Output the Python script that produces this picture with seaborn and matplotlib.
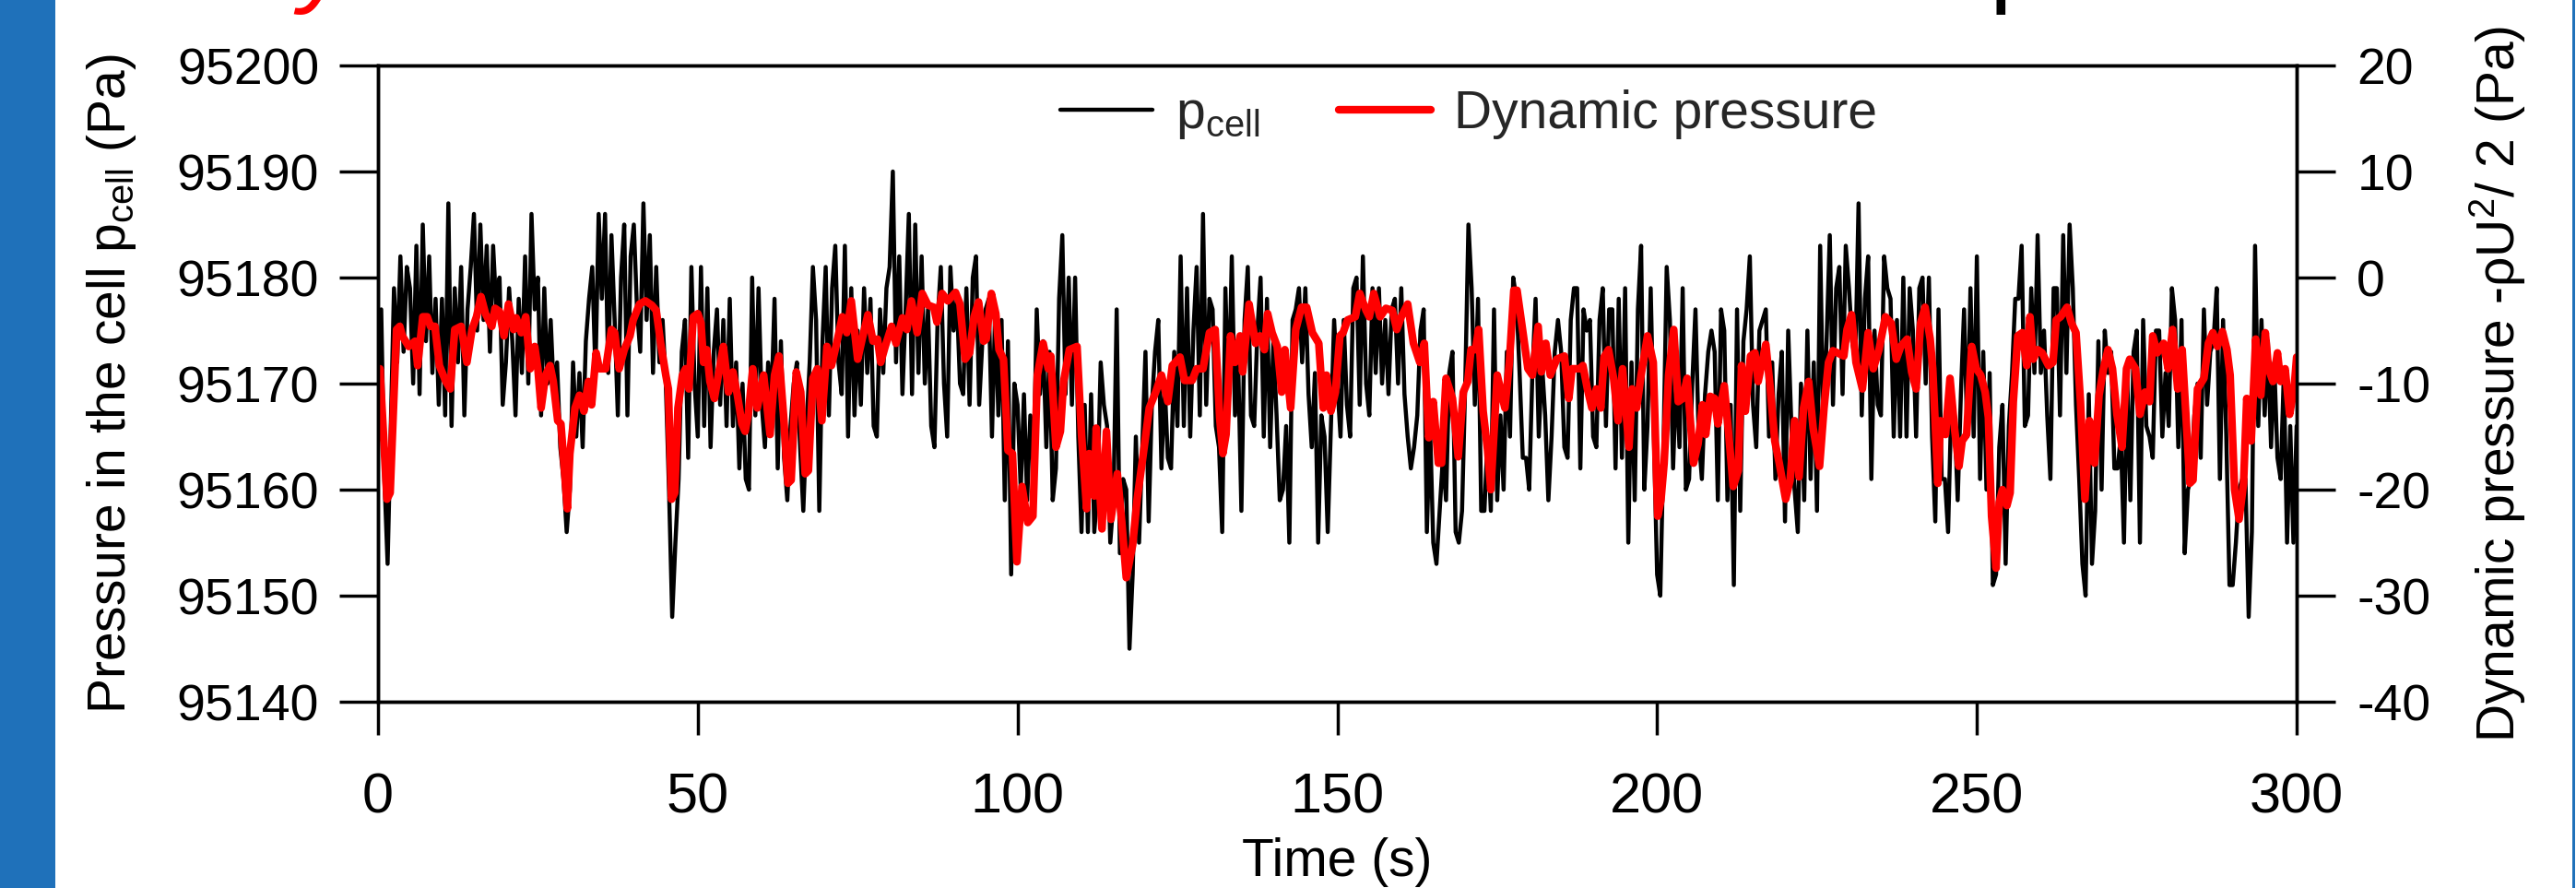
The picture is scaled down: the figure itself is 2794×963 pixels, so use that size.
import numpy as np
import pandas as pd
import matplotlib
matplotlib.use("Agg")
import matplotlib.pyplot as plt
import seaborn as sns
from matplotlib.patches import Rectangle
from matplotlib.lines import Line2D

# ---------------- data ----------------
# pressure in the cell (Pa), sampled every 0.5 s from 0 to 300 s
p_cell = [
    95168, 95177, 95161, 95153, 95166, 95179, 95172, 95182, 95173, 95181,
    95179, 95170, 95183, 95169, 95185, 95174, 95182, 95171, 95178, 95168,
    95178, 95167, 95187, 95166, 95179, 95172, 95181, 95167, 95177, 95181,
    95186, 95175, 95185, 95176, 95183, 95173, 95183, 95177, 95180, 95168,
    95172, 95179, 95174, 95167, 95178, 95171, 95182, 95170, 95186, 95177,
    95180, 95167, 95179, 95170, 95176, 95169, 95172, 95164, 95161, 95156,
    95160, 95172, 95165, 95171, 95164, 95174, 95178, 95181, 95171, 95186,
    95178, 95186, 95171, 95184, 95176, 95167, 95180, 95185, 95167, 95182,
    95185, 95177, 95173, 95187, 95176, 95184, 95171, 95181, 95172, 95176,
    95170, 95160, 95148, 95155, 95161, 95173, 95176, 95163, 95181, 95170,
    95165, 95181, 95166, 95179, 95164, 95173, 95177, 95168, 95176, 95166,
    95178, 95166, 95172, 95162, 95170, 95161, 95160, 95180, 95167, 95179,
    95168, 95164, 95172, 95168, 95178, 95162, 95174, 95163, 95159, 95166,
    95170, 95172, 95164, 95158, 95166, 95172, 95181, 95176, 95158, 95174,
    95181, 95167, 95179, 95183, 95172, 95169, 95183, 95165, 95179, 95167,
    95175, 95168, 95179, 95171, 95178, 95166, 95165, 95177, 95171, 95179,
    95181, 95190, 95172, 95182, 95169, 95177, 95186, 95169, 95185, 95171,
    95182, 95170, 95177, 95166, 95164, 95176, 95181, 95170, 95165, 95181,
    95175, 95178, 95170, 95169, 95179, 95168, 95180, 95182, 95168, 95174,
    95177, 95178, 95165, 95177, 95167, 95176, 95159, 95174, 95152, 95170,
    95168, 95160, 95169, 95159, 95167, 95162, 95177, 95169, 95174, 95164,
    95173, 95159, 95162, 95178, 95184, 95169, 95180, 95168, 95180, 95165,
    95156, 95168, 95156, 95169, 95156, 95160, 95172, 95168, 95166, 95155,
    95159, 95177, 95154, 95161, 95160, 95145, 95152, 95165, 95155, 95164,
    95173, 95157, 95168, 95173, 95176, 95162, 95170, 95163, 95162, 95173,
    95166, 95182, 95166, 95179, 95165, 95175, 95181, 95167, 95186, 95168,
    95178, 95177, 95166, 95164, 95156, 95179, 95168, 95182, 95167, 95172,
    95158, 95176, 95181, 95167, 95166, 95175, 95180, 95165, 95178, 95164,
    95174, 95167, 95159, 95160, 95166, 95155, 95176, 95177, 95179, 95172,
    95179, 95169, 95164, 95171, 95155, 95167, 95165, 95156, 95166, 95176,
    95170, 95165, 95176, 95168, 95165, 95179, 95180, 95168, 95182, 95170,
    95167, 95179, 95171, 95179, 95170, 95176, 95169, 95177, 95178, 95170,
    95179, 95169, 95165, 95162, 95164, 95167, 95175, 95177, 95156, 95166,
    95155, 95153, 95158, 95163, 95159, 95171, 95173, 95156, 95155, 95158,
    95170, 95185, 95179, 95168, 95178, 95158, 95158, 95165, 95158, 95177,
    95159, 95167, 95160, 95173, 95165, 95180, 95178, 95171, 95163, 95163,
    95160, 95171, 95178, 95165, 95172, 95167, 95159, 95165, 95173, 95176,
    95173, 95164, 95163, 95176, 95179, 95179, 95162, 95177, 95175, 95176,
    95165, 95164, 95176, 95179, 95166, 95177, 95177, 95162, 95178, 95163,
    95179, 95155, 95172, 95159, 95177, 95183, 95160, 95166, 95179, 95165,
    95152, 95150, 95164, 95181, 95176, 95162, 95171, 95164, 95179, 95160,
    95161, 95170, 95177, 95165, 95161, 95169, 95173, 95175, 95173, 95159,
    95177, 95175, 95159, 95168, 95151, 95177, 95158, 95174, 95177, 95182,
    95168, 95164, 95175, 95176, 95177, 95165, 95172, 95161, 95169, 95173,
    95157, 95175, 95166, 95160, 95156, 95170, 95159, 95175, 95161, 95172,
    95158, 95183, 95166, 95174, 95184, 95168, 95179, 95181, 95169, 95183,
    95179, 95174, 95172, 95187, 95167, 95178, 95182, 95161, 95175, 95168,
    95167, 95182, 95179, 95178, 95165, 95176, 95165, 95180, 95165, 95179,
    95175, 95165, 95179, 95180, 95170, 95180, 95165, 95157, 95177, 95161,
    95161, 95156, 95168, 95167, 95159, 95169, 95177, 95165, 95179, 95165,
    95182, 95161, 95173, 95160, 95171, 95151, 95152, 95164, 95168, 95153,
    95166, 95171, 95178, 95178, 95183, 95166, 95167, 95179, 95171, 95184,
    95171, 95175, 95167, 95161, 95179, 95179, 95167, 95184, 95171, 95185,
    95179, 95168, 95161, 95153, 95150, 95169, 95153, 95158, 95174, 95160,
    95175, 95171, 95173, 95162, 95162, 95165, 95155, 95171, 95159, 95173,
    95175, 95155, 95176, 95166, 95165, 95163, 95175, 95175, 95165, 95171,
    95166, 95179, 95176, 95164, 95176, 95154, 95160, 95161, 95167, 95170,
    95163, 95177, 95168, 95173, 95174, 95179, 95161, 95176, 95165, 95151,
    95151, 95155, 95160, 95161, 95161, 95148, 95156, 95183, 95166, 95176,
    95167, 95174, 95164, 95172, 95163, 95161, 95171, 95155, 95166, 95155,
    95166,
]

# dynamic pressure -rho U^2/2 (Pa): time (s) and value
red_t = [
    0, 0.3, 1.4, 1.9, 2.4, 2.9, 3.4, 3.8, 4.8, 5.8,
    6.2, 7, 7.7, 8.2, 8.9, 9.6, 10.6, 11.3, 12, 13,
    13.9, 14.7, 15.4, 16.1, 16.8, 17.8, 18.3, 19, 19.7, 20.4,
    21.2, 21.6, 22.4, 23.1, 23.8, 24.5, 25, 25.5, 26.2, 26.9,
    27.4, 28.1, 28.6, 29.1, 29.6, 30, 30.8, 31.5, 32.2, 32.9,
    33.4, 34.1, 34.6, 35.6, 36.5, 37, 37.7, 38.5, 39.4, 39.9,
    40.9, 41.8, 42.8, 43.5, 44.2, 45, 45.4, 45.9, 46.4, 46.9,
    47.6, 48.1, 48.6, 49.3, 50,
    50.5, 50.9, 51.4, 51.9, 52.6, 53.3, 54, 54.8, 55.5, 56.2,
    56.9, 57.4, 57.9, 58.6, 59.3, 60.3, 61.3, 62, 62.7, 63.4,
    64.1, 64.6, 65.4, 66.1, 66.8, 67.3, 68, 68.7, 69.4, 70.2,
    70.9, 71.6, 72.6, 73.3, 74, 75, 75.7, 76.6, 77.4, 78.1,
    78.6, 79.3, 80.3, 81, 82, 82.7, 83.4, 84.3, 85.1, 86,
    86.9, 87.4, 88.2, 89.1, 90.3, 91, 91.8, 92.5, 93.2, 93.9,
    94.7, 95.1, 95.9, 96.6, 97.1, 97.8, 98.5, 99.2, 99.9, 100.7,
    101.6, 102.4, 103.1, 104, 104.8, 105.2, 106, 106.7, 107.2, 108.1,
    109.3, 110, 110.8, 111.2, 112, 112.3, 113.2, 113.9, 114.6, 115.6,
    116.3, 117, 118, 118.7, 119.6, 120.6, 121.6, 122.5, 123.5, 124.2,
    125.4, 126.1, 127.3, 128, 129, 130, 130.9, 131.6, 132.1, 132.6,
    133.3, 134, 134.8, 135.2, 136.2, 137.2, 137.9, 138.6, 139.1, 139.8,
    140.6, 141.3, 141.8, 142.7, 143.5, 144.4, 145.2, 146.1, 147.1, 147.8,
    148.3, 149, 149.7, 150.4,
    150.9, 151.6, 152.8, 153.5, 154.5, 155, 155.7, 156.7, 157.6, 158.6,
    159.3, 160, 161, 161.9, 162.9, 163.6, 164.3, 165, 165.8, 166.3,
    167, 168, 168.9, 169.7, 170.4, 170.9, 171.6, 172.1, 172.8, 173.5,
    174, 175, 176.2, 176.9, 177.6, 178.1, 179.1, 179.8, 180.5, 181.4,
    181.9, 182.6, 183.3, 184.3, 185.5, 186.2, 186.7, 187.9, 188.4, 189.1,
    189.8, 190.5, 191.2, 191.7, 192.4, 193.2, 193.9, 194.6, 195.6, 196.1,
    196.8, 197.5, 198.5, 199.4, 200.1, 200.6, 201.1, 201.8,
    202.6, 203.3, 204, 204.7, 205.7, 206.4, 207.1, 207.6, 208.3, 209,
    209.5, 210.5, 211.2, 211.9, 212.7, 213.2, 213.8, 214.6, 215.3, 215.8,
    217, 217.7, 218.4, 219.1, 220.1, 220.8, 221.5, 222.2, 222.9, 223.7,
    224.4, 225.4, 226.1, 226.8, 227.5, 228.2, 229.2, 229.7, 230.4, 231.1,
    232.1, 233, 233.8, 234.7, 235.7, 236.6, 237.4, 238.1, 239.1, 239.8,
    240.5, 241.2, 241.9, 242.7, 243.1, 243.9, 244.3, 245.1, 245.8, 246.5,
    247.2, 247.7, 248.4, 249.2, 249.9, 250.6, 251.3, 251.8,
    252.3, 253, 253.5, 254, 254.7, 255.2, 255.7, 256.4, 257.1, 257.8,
    258.3, 258.8, 259.5, 260.2, 261.2, 261.9, 262.4, 263.1, 264.1, 264.8,
    265.5, 266.2, 266.9, 267.6, 268.4, 269.1, 269.8, 270.5, 271.2, 271.9,
    272.7, 273.4, 273.9, 274.8, 275.5, 276.3, 277, 277.5, 278.2, 279.2,
    279.9, 280.6, 281.4, 282.1, 282.8, 283.3, 283.8, 284.5, 285.5, 286.2,
    286.9, 287.6, 288.4, 289.1, 289.6, 290.3, 291, 291.7, 292.2, 292.9,
    293.6, 294.4, 295.1, 295.6, 296.3, 297, 297.5, 298.2, 298.9, 299.6, 300,
]
red_dp = [
    -15.1, -8.6, -20.9, -20.3, -12.6, -4.9, -4.6, -5.5, -6.5, -6,
    -8.3, -3.7, -3.7, -4.6, -4.6, -8.3, -9.8, -10.5, -4.9, -4.6,
    -8, -4.9, -3.7, -1.8, -3.4, -4.6, -2.9, -3.2, -5.5, -2.5,
    -4.9, -3.8, -5.2, -3.7, -8.6, -6.5, -8.6, -12.3, -9.2, -8.3,
    -9.8, -13.5, -13.8, -17.8, -21.8, -16.6, -12.3, -11.1, -12.6, -9.8,
    -12, -7.1, -8.6, -8.6, -4.9, -5.2, -8.6, -6.8, -5.5, -4,
    -2.5, -2.2, -2.6, -3.1, -6.2, -9.2, -10.5, -20.9, -20.3, -12.3,
    -9.2, -8.6, -10.5, -3.7, -3.4,
    -4.3, -8, -6.8, -9.8, -11.4, -8.9, -6.5, -10.8, -8.9, -11.1,
    -13.8, -14.5, -12.9, -8.6, -12.3, -9.2, -14.8, -9.2, -7.4, -12.9,
    -19.4, -19.1, -8.9, -10.8, -18.5, -18.2, -9.5, -8.6, -13.5, -6.5,
    -8.3, -6.5, -3.7, -5.2, -2.2, -7.7, -5.8, -3.5, -6, -5.8,
    -8, -6.5, -4.6, -6.2, -3.8, -4.9, -2.2, -5.2, -1.5, -2.6,
    -2.8, -4.2, -1.5, -2.2, -1.4, -2.5, -7.7, -7.1, -3.7, -2.3,
    -6, -5.8, -1.5, -3.4, -6.8, -7.7, -16.3, -16.6, -26.8, -19.7,
    -23.1, -22.5, -9.2, -6.2, -8.6, -7.4, -16, -14.5, -9.8, -6.8,
    -6.5, -14.8, -21.8, -16.6, -20.6, -14.2, -23.7, -14.5, -22.8, -18.5,
    -23.1, -28.3, -25.2, -20.9, -16.9, -12.3, -10.8, -9.2, -11.7, -8.3,
    -7.5, -9.7, -9.7, -8.6, -8.6, -5.2, -4.9, -13.2, -16.6, -14.8,
    -5.5, -8, -5.5, -8.9, -2.5, -6.2, -5.5, -6.8, -3.4, -5.2,
    -6.5, -10.8, -6.8, -12.3, -4.9, -2.8, -2.8, -5.2, -6.2, -12.3,
    -9.2, -12.6, -10.8, -5.5,
    -5.2, -4, -3.7, -1.5, -3.1, -3.7, -1.5, -3.7, -2.9, -3.1,
    -4.9, -3.7, -2.5, -6.2, -8, -6.2, -15.1, -11.7, -17.5, -17.5,
    -9.5, -11.4, -16.9, -10.8, -9.8, -6.8, -6.8, -4.9, -12.6, -16.3,
    -20, -9.2, -12.3, -8, -1.2, -1.2, -5.5, -8.6, -9.2, -4.6,
    -8.9, -6.2, -9.2, -7.7, -7.4, -11.4, -8.6, -8.6, -8.3, -10.5,
    -12.3, -10.5, -12.3, -7.5, -6.8, -9.5, -13.5, -8.6, -16, -10.5,
    -12.3, -9.2, -5.5, -8, -22.5, -21, -17.5, -9.2,
    -4.9, -11.7, -11.4, -9.5, -17.5, -15.7, -12, -14.8, -11.2, -11.4,
    -13.8, -10.2, -14.8, -19.7, -18.2, -8.3, -12.6, -7.4, -7.1, -9.8,
    -6.3, -10.5, -15.4, -17.5, -20.9, -19.1, -13.5, -18.8, -12.3, -9.8,
    -14.2, -17.8, -12.3, -8, -6.9, -7.1, -7.4, -4.9, -3.5, -8,
    -10.5, -5.2, -8.6, -6.8, -3.7, -4.3, -7.7, -6.5, -5.8, -8.9,
    -10.5, -4.3, -2.8, -5.8, -8.6, -19.4, -13.5, -14.8, -9.5, -14.2,
    -17.8, -15.4, -14.8, -6.5, -8.6, -9.2, -10.8, -13.2,
    -22.5, -27.4, -21.2, -20, -21.5, -20.3, -11.7, -5.5, -5.2, -8.3,
    -3.7, -7.7, -6.8, -7.1, -8.3, -8, -4, -3.7, -2.8, -4.3,
    -5.2, -11.7, -20.9, -13.5, -17.5, -11.1, -8.6, -6.8, -8.6, -12.9,
    -16, -8.6, -7.7, -8.6, -12.9, -10.8, -11.7, -5.5, -7.1, -6.2,
    -8.6, -4.9, -10.5, -6.8, -14.2, -19.4, -19.1, -10.5, -9.5, -6.2,
    -5.2, -6.5, -5.1, -6.8, -9.2, -20, -22.8, -19.4, -11.4, -15.4,
    -5.8, -11.1, -5.2, -8.6, -9.8, -7.1, -9.8, -8.6, -12.9, -10.5, -7.5,
]

x_ticks = [0, 50, 100, 150, 200, 250, 300]
left_ticks = [95140, 95150, 95160, 95170, 95180, 95190, 95200]
right_ticks = [-40, -30, -20, -10, 0, 10, 20]

# time base of the sampled cell pressure (0 .. 300 s)
t_cell = np.linspace(0, 300, len(p_cell))
df_cell = pd.DataFrame({"t": t_cell, "p": p_cell})
df_dyn = pd.DataFrame({"t": red_t, "dp": red_dp})

# ---------------- style ----------------
sns.set_style("ticks")
plt.rcParams["font.family"] = ["Liberation Sans", "DejaVu Sans"]
plt.rcParams["mathtext.fontset"] = "custom"
plt.rcParams["mathtext.rm"] = "Liberation Sans"
plt.rcParams["mathtext.it"] = "Liberation Sans"
plt.rcParams["mathtext.default"] = "regular"

W, H = 2794, 963
fig = plt.figure(figsize=(W / 100, H / 100), dpi=100)
fig.patch.set_facecolor("white")

# side decorations of the slide
fig.add_artist(Rectangle((0, 0), 60 / W, 1, transform=fig.transFigure,
                         facecolor="#1F71BA", edgecolor="none", zorder=0))
fig.add_artist(Rectangle((2790 / W, 0), 3 / W, 1, transform=fig.transFigure,
                         facecolor="#1F71BA", edgecolor="none", zorder=0))

ax = fig.add_axes([410 / W, 1 - 761 / H, 2081 / W, 690 / H])
ax2 = ax.twinx()

sns.lineplot(data=df_cell, x="t", y="p", ax=ax, color="black", linewidth=3.2,
             estimator=None, sort=False, legend=False)
sns.lineplot(data=df_dyn, x="t", y="dp", ax=ax2, color="#FF0000", linewidth=6,
             estimator=None, sort=False, legend=False)

ax.set_xlim(0, 300)
ax.set_ylim(95140, 95200)
ax2.set_ylim(-40, 20)
ax.set_xticks(x_ticks)
ax.set_xticklabels([str(v) for v in x_ticks])
ax.set_yticks(left_ticks)
ax.set_yticklabels([str(v) for v in left_ticks])
ax2.set_yticks(right_ticks)
ax2.set_yticklabels([str(v) for v in right_ticks])

for a in (ax, ax2):
    for s in a.spines.values():
        s.set_visible(True)
        s.set_linewidth(2.5)
        s.set_color("black")

ax.tick_params(axis="x", which="both", direction="out", length=26, width=2.5,
               pad=29, labelsize=44, top=False, colors="black")
ax.tick_params(axis="y", which="both", direction="out", length=30, width=2.5,
               pad=16, labelsize=40, right=False, colors="black")
ax2.tick_params(axis="y", which="both", direction="out", length=30, width=2.5,
                pad=17, labelsize=40, left=False, colors="black")

ax.set_xlabel("Time (s)", fontsize=41, color="black")
ax.xaxis.set_label_coords(0.5, -0.213)

ax.set_ylabel("Pressure in the cell p$_{cell}$ (Pa)", fontsize=41, color="black")
ax.yaxis.label.set_verticalalignment("center")
ax.yaxis.set_label_coords(-0.139, 0.5)

ax2.set_ylabel("Dynamic pressure -\u03c1U$^{2}$/ 2 (Pa)", fontsize=41, color="black")
ax2.yaxis.label.set_verticalalignment("center")
ax2.yaxis.set_label_coords(1.105, 0.5)

handles = [Line2D([], [], color="black", linewidth=3.2),
           Line2D([], [], color="#FF0000", linewidth=6)]
labels = ["p$_{cell}$", "Dynamic pressure"]
ax2.legend(handles, labels, loc="center", bbox_to_anchor=(0.5685, 0.922),
           ncol=2, frameon=False, fontsize=41, handlelength=1.75,
           handletextpad=0.44, columnspacing=1.5, borderaxespad=0)

# fragments of the slide title cut by the top edge (only the descender tails show)
fig.text(352 / W, 1 - 16 / H, "y", color="#FF0000", fontsize=80, fontstyle="italic",
         ha="center", va="bottom")
fig.text(2158 / W, 1 - 16 / H, "p", color="black", fontsize=80,
         ha="left", va="bottom")

fig.savefig("out.png", dpi=100, facecolor="white")
